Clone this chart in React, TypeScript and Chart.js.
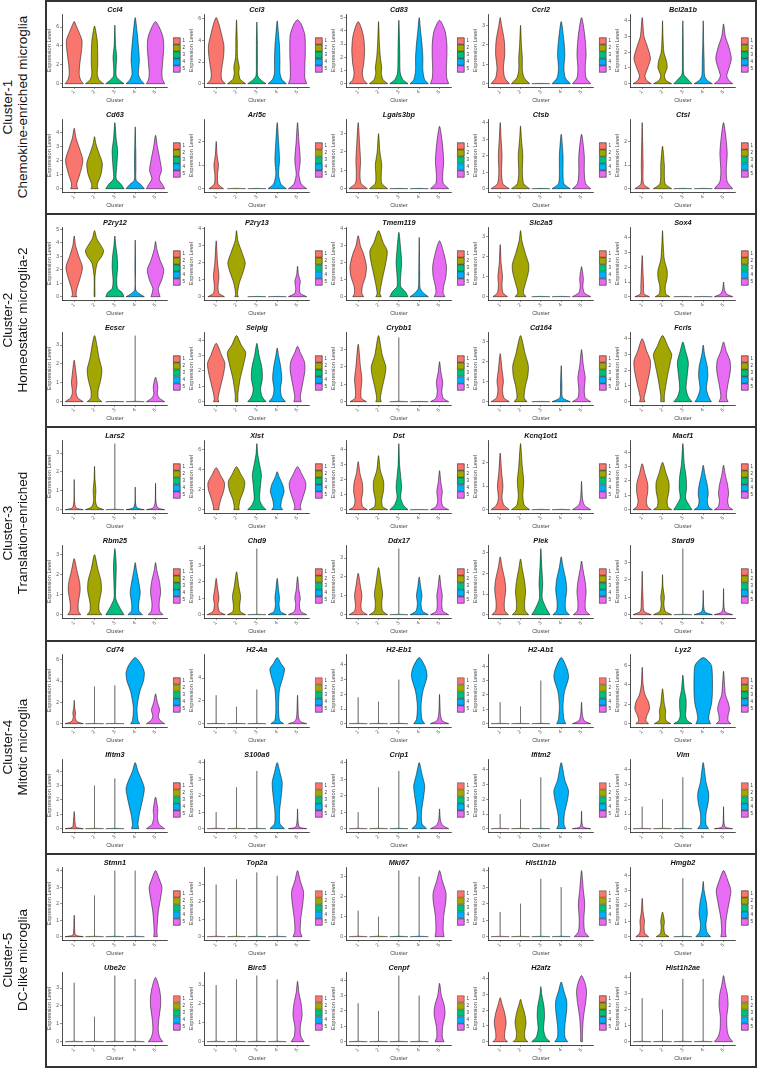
import React, { useEffect, useRef } from "react";
import { Chart, registerables } from "chart.js";

Chart.register(...registerables);

const FONT = "'Liberation Sans', Arial, Helvetica, sans-serif";

const clusterLabels = ["1", "2", "3", "4", "5"];
const clusterColors = ["#F8766D", "#A3A500", "#00BF7D", "#00B0F6", "#E76BF3"];

const sectionNames = ["Cluster-1", "Cluster-2", "Cluster-3", "Cluster-4", "Cluster-5"];
const sectionSubtitles = [
  "Chemokine-enriched microglia",
  "Homeostatic microglia-2",
  "Translation-enriched",
  "Mitotic microglia",
  "DC-like microglia",
];

type Knot = [number, number];
type Violin = Knot[];

// ---------- Section 1 ----------
const s1Genes = ["Ccl4", "Ccl3", "Cd83", "Ccrl2", "Bcl2a1b", "Cd63", "Arl5c", "Lgals3bp", "Ctsb", "Ctsl"];
const s1Ticks = [[0, 2, 4, 6], [0, 2, 4, 6], [0, 1, 2, 3, 4, 5], [0, 1, 2, 3], [0, 1, 2, 3, 4], [0, 1, 2, 3, 4], [0, 1, 2], [0, 1, 2, 3], [0, 1, 2, 3, 4], [0, 1, 2]];
const s1Violins: Violin[][] = [
  [
    [[0, 1], [0.4, 0.7], [1, 0.55], [2, 0.6], [3.5, 0.8], [4.6, 0.85], [5.5, 0.5], [6.2, 0.2], [6.6, 0]],
    [[0, 1], [0.4, 0.5], [1, 0.3], [2, 0.35], [3, 0.35], [4.5, 0.3], [5.5, 0.15], [6.1, 0]],
    [[0, 1], [0.3, 0.6], [0.8, 0.15], [2, 0.15], [2.8, 0.2], [4, 0.08], [6.2, 0]],
    [[0, 1], [0.4, 0.6], [1, 0.35], [2.5, 0.45], [4, 0.35], [5.5, 0.2], [7, 0]],
    [[0, 1], [0.5, 0.75], [1.2, 0.7], [2.5, 0.8], [4, 0.9], [5, 0.8], [6, 0.4], [6.6, 0]],
  ],
  [
    [[0, 1], [0.4, 0.6], [1, 0.55], [2.5, 0.8], [3.5, 0.85], [4.5, 0.6], [5.5, 0.3], [6.1, 0]],
    [[0, 1], [0.4, 0.4], [1, 0.25], [1.5, 0.3], [2.5, 0.1], [4, 0.08], [5.9, 0]],
    [[0, 1], [0.3, 0.5], [0.7, 0.1], [2, 0.06], [4, 0.05], [5.7, 0]],
    [[0, 1], [0.4, 0.5], [1, 0.3], [2, 0.3], [3.5, 0.25], [4.5, 0.15], [5.8, 0]],
    [[0, 1], [0.5, 0.8], [1.5, 0.8], [3, 0.85], [4.5, 0.8], [5.5, 0.4], [5.9, 0]],
  ],
  [
    [[0, 1], [0.3, 0.6], [0.8, 0.45], [1.5, 0.6], [2.5, 0.7], [3.5, 0.6], [4.3, 0.3], [4.7, 0]],
    [[0, 1], [0.3, 0.5], [0.8, 0.3], [1.2, 0.35], [2, 0.2], [3, 0.1], [4.7, 0]],
    [[0, 1], [0.3, 0.45], [0.8, 0.15], [2, 0.1], [3, 0.08], [4.8, 0]],
    [[0, 1], [0.3, 0.6], [1, 0.4], [2, 0.4], [3, 0.3], [4, 0.15], [5, 0]],
    [[0, 1], [0.4, 0.8], [1, 0.75], [2, 0.8], [3, 0.8], [4, 0.6], [4.8, 0]],
  ],
  [
    [[0, 1], [0.3, 0.5], [0.8, 0.35], [1.5, 0.5], [2.2, 0.45], [3, 0.15], [3.4, 0]],
    [[0, 1], [0.3, 0.4], [0.7, 0.2], [1.3, 0.2], [2, 0.1], [3, 0]],
    [[0, 1], [0.02, 0]],
    [[0, 1], [0.3, 0.45], [0.8, 0.3], [1.5, 0.4], [2.2, 0.3], [3.2, 0]],
    [[0, 1], [0.3, 0.5], [0.8, 0.4], [1.5, 0.5], [2.5, 0.35], [3.4, 0]],
  ],
  [
    [[0, 1], [0.2, 0.5], [0.5, 0.3], [1, 0.6], [1.6, 0.9], [2.3, 0.6], [3, 0.2], [4.2, 0]],
    [[0, 1], [0.2, 0.4], [0.5, 0.2], [1, 0.5], [1.4, 0.45], [2, 0.15], [3, 0.05], [4, 0]],
    [[0, 1], [0.3, 0.5], [0.6, 0.1], [1.5, 0.05], [3, 0.03], [4, 0]],
    [[0, 1], [0.2, 0.45], [0.5, 0.15], [1.5, 0.1], [2.5, 0.05], [4, 0]],
    [[0, 1], [0.2, 0.6], [0.5, 0.35], [1, 0.6], [1.6, 0.85], [2.3, 0.6], [3, 0.2], [3.8, 0]],
  ],
  [
    [[0, 0.4], [0.15, 0.3], [0.4, 0.3], [1, 0.6], [2, 0.95], [2.8, 0.6], [3.6, 0.2], [4.3, 0]],
    [[0, 0.4], [0.15, 0.3], [0.4, 0.35], [1, 0.7], [1.8, 0.85], [2.5, 0.5], [3.2, 0.15], [3.7, 0]],
    [[0, 1], [0.3, 0.7], [0.7, 0.15], [1.5, 0.2], [2.7, 0.3], [3.5, 0.15], [4.7, 0]],
    [[0, 1], [0.3, 0.6], [0.6, 0.1], [1.5, 0.08], [2.5, 0.07], [3, 0.05], [4.4, 0]],
    [[0, 1], [0.3, 0.75], [0.7, 0.4], [1.3, 0.65], [2, 0.5], [3, 0.2], [3.8, 0]],
  ],
  [
    [[0, 0.8], [0.2, 0.2], [0.6, 0.15], [1, 0.25], [1.4, 0.1], [2, 0]],
    [[0, 1], [0.02, 0]],
    [[0, 1], [0.02, 0]],
    [[0, 1], [0.2, 0.4], [0.6, 0.15], [1.2, 0.25], [2, 0.15], [2.8, 0]],
    [[0, 1], [0.2, 0.4], [0.6, 0.15], [1.2, 0.3], [2, 0.15], [2.8, 0]],
  ],
  [
    [[0, 1], [0.3, 0.3], [0.8, 0.2], [1.5, 0.25], [2.5, 0.15], [3.6, 0]],
    [[0, 1], [0.3, 0.35], [0.8, 0.3], [1.3, 0.35], [2, 0.15], [3, 0]],
    [[0, 1], [0.02, 0]],
    [[0, 1], [0.02, 0]],
    [[0, 1], [0.3, 0.4], [0.8, 0.35], [1.5, 0.45], [2.5, 0.3], [3.4, 0]],
  ],
  [
    [[0, 1], [0.3, 0.3], [1, 0.15], [2, 0.2], [3, 0.1], [4, 0]],
    [[0, 1], [0.3, 0.35], [1, 0.2], [2, 0.25], [3, 0.1], [3.8, 0]],
    [[0, 1], [0.02, 0]],
    [[0, 1], [0.3, 0.3], [1, 0.2], [2, 0.2], [3.3, 0]],
    [[0, 1], [0.3, 0.45], [1, 0.3], [2, 0.3], [3.3, 0]],
  ],
  [
    [[0, 0.8], [0.2, 0.15], [1, 0.1], [2, 0.05], [2.8, 0]],
    [[0, 1], [0.2, 0.3], [0.6, 0.2], [1, 0.2], [1.8, 0]],
    [[0, 1], [0.02, 0]],
    [[0, 1], [0.02, 0]],
    [[0, 1], [0.3, 0.4], [0.8, 0.3], [1.5, 0.4], [2.2, 0.25], [2.8, 0]],
  ],
];

// ---------- Section 2 ----------
const s2Genes = ["P2ry12", "P2ry13", "Tmem119", "Slc2a5", "Sox4", "Ecscr", "Selplg", "Crybb1", "Cd164", "Fcrls"];
const s2Ticks = [[0, 1, 2, 3, 4, 5], [0, 1, 2, 3, 4], [0, 1, 2, 3, 4], [0, 1, 2, 3], [0, 1, 2, 3, 4], [0, 1, 2, 3], [0, 1, 2, 3, 4], [0, 1, 2, 3], [0, 1, 2, 3], [0, 1, 2, 3, 4]];
const s2Violins: Violin[][] = [
  [
    [[0, 0.3], [0.15, 0.2], [0.6, 0.3], [1.5, 0.7], [2.2, 0.9], [3, 0.5], [3.8, 0.15], [4.5, 0]],
    [[0, 0.05], [1.5, 0.05], [2.5, 0.3], [3, 0.8], [3.4, 1], [3.8, 0.7], [4.3, 0.25], [4.9, 0]],
    [[0, 1], [0.3, 0.8], [0.6, 0.3], [1.2, 0.2], [2.2, 0.3], [3, 0.25], [3.8, 0.1], [4.5, 0]],
    [[0, 1], [0.2, 0.5], [0.5, 0.05], [2, 0.03], [4.2, 0]],
    [[0, 0.5], [0.2, 0.4], [0.6, 0.3], [1.3, 0.7], [2, 0.9], [2.7, 0.5], [3.5, 0.15], [4.1, 0]],
  ],
  [
    [[0, 0.9], [0.2, 0.3], [0.6, 0.2], [1.2, 0.3], [2, 0.15], [3.3, 0]],
    [[0, 0.2], [0.15, 0.1], [0.8, 0.3], [1.5, 0.75], [2, 0.95], [2.6, 0.6], [3.3, 0.15], [3.9, 0]],
    [[0, 1], [0.02, 0]],
    [[0, 1], [0.02, 0]],
    [[0, 1], [0.2, 0.3], [0.5, 0.2], [0.9, 0.3], [1.3, 0.1], [1.8, 0]],
  ],
  [
    [[0, 0.6], [0.2, 0.4], [0.6, 0.45], [1.2, 0.8], [1.8, 0.9], [2.5, 0.6], [3, 0.25], [3.6, 0]],
    [[0, 0.3], [0.2, 0.15], [1, 0.4], [2, 0.8], [2.7, 0.95], [3.2, 0.5], [3.9, 0]],
    [[0, 1], [0.3, 0.7], [0.6, 0.2], [1.2, 0.2], [2, 0.3], [2.8, 0.2], [3.8, 0]],
    [[0, 1], [0.2, 0.5], [0.5, 0.1], [1.5, 0.05], [3.5, 0]],
    [[0, 0.6], [0.2, 0.4], [0.6, 0.45], [1.2, 0.7], [1.8, 0.75], [2.5, 0.5], [3.3, 0]],
  ],
  [
    [[0, 0.8], [0.2, 0.3], [0.6, 0.2], [1, 0.25], [1.7, 0.1], [2.6, 0]],
    [[0, 0.6], [0.2, 0.3], [0.6, 0.5], [1.2, 0.85], [1.6, 0.9], [2.2, 0.5], [2.8, 0.15], [3.3, 0]],
    [[0, 1], [0.02, 0]],
    [[0, 1], [0.02, 0]],
    [[0, 1], [0.2, 0.3], [0.5, 0.15], [0.9, 0.2], [1.5, 0]],
  ],
  [
    [[0, 0.8], [0.2, 0.2], [0.8, 0.15], [1.5, 0.1], [2.8, 0]],
    [[0, 0.8], [0.2, 0.35], [0.7, 0.3], [1.3, 0.5], [1.8, 0.5], [2.5, 0.2], [3.5, 0.08], [4.5, 0]],
    [[0, 1], [0.02, 0]],
    [[0, 1], [0.02, 0]],
    [[0, 1], [0.2, 0.3], [0.5, 0.1], [1, 0]],
  ],
  [
    [[0, 1], [0.2, 0.4], [0.5, 0.2], [1, 0.3], [1.5, 0.2], [2.2, 0]],
    [[0, 0.8], [0.2, 0.4], [0.6, 0.4], [1.2, 0.7], [1.7, 0.8], [2.3, 0.5], [3.5, 0]],
    [[0, 1], [0.02, 0]],
    [[0, 1], [0.03, 0.01], [3.5, 0]],
    [[0, 1], [0.2, 0.4], [0.4, 0.2], [0.8, 0.25], [1.3, 0]],
  ],
  [
    [[0, 0.3], [0.2, 0.2], [0.8, 0.4], [1.8, 0.8], [2.5, 0.95], [3, 0.6], [3.8, 0]],
    [[0, 0.15], [0.5, 0.15], [1.5, 0.4], [2.5, 0.8], [3.2, 1], [3.7, 0.5], [4.3, 0]],
    [[0, 1], [0.3, 0.6], [0.8, 0.4], [1.5, 0.6], [2.2, 0.55], [3, 0.25], [3.8, 0]],
    [[0, 0.9], [0.3, 0.5], [0.8, 0.35], [1.5, 0.5], [2.2, 0.4], [3, 0.15], [3.5, 0]],
    [[0, 0.4], [0.3, 0.3], [1, 0.5], [2, 0.8], [2.6, 0.75], [3.2, 0.3], [3.6, 0]],
  ],
  [
    [[0, 0.9], [0.2, 0.35], [0.6, 0.3], [1.3, 0.4], [2, 0.25], [3.3, 0]],
    [[0, 0.3], [0.2, 0.2], [0.8, 0.4], [1.5, 0.7], [2, 0.8], [2.7, 0.4], [3.8, 0]],
    [[0, 1], [0.03, 0.01], [3.7, 0]],
    [[0, 1], [0.02, 0]],
    [[0, 1], [0.2, 0.4], [0.6, 0.25], [1.1, 0.35], [1.7, 0.15], [2.3, 0]],
  ],
  [
    [[0, 1], [0.2, 0.4], [0.6, 0.25], [1, 0.35], [1.6, 0.2], [2.4, 0]],
    [[0, 0.7], [0.2, 0.4], [0.7, 0.5], [1.3, 0.8], [1.8, 0.85], [2.4, 0.5], [3.3, 0]],
    [[0, 1], [0.02, 0]],
    [[0, 1], [0.2, 0.15], [0.8, 0.08], [1.8, 0]],
    [[0, 1], [0.2, 0.4], [0.6, 0.3], [1.2, 0.4], [1.8, 0.2], [2.6, 0]],
  ],
  [
    [[0, 0.3], [0.2, 0.2], [1, 0.5], [2, 0.85], [2.6, 0.9], [3.2, 0.5], [4, 0]],
    [[0, 0.2], [0.4, 0.2], [1.5, 0.5], [2.5, 0.85], [3, 1], [3.5, 0.6], [4.2, 0]],
    [[0, 1], [0.3, 0.6], [0.8, 0.35], [1.8, 0.5], [2.5, 0.6], [3.2, 0.3], [3.8, 0]],
    [[0, 0.9], [0.3, 0.6], [0.8, 0.35], [1.6, 0.5], [2.2, 0.45], [3, 0.15], [3.6, 0]],
    [[0, 0.5], [0.3, 0.3], [1, 0.45], [2, 0.75], [2.6, 0.7], [3.2, 0.3], [3.8, 0]],
  ],
];

// ---------- Section 3 ----------
const s3Genes = ["Lars2", "Xist", "Dst", "Kcnq1ot1", "Macf1", "Rbm25", "Chd9", "Ddx17", "Plek", "Stard9"];
const s3Ticks = [[0, 1, 2, 3], [0, 2, 4, 6], [0, 1, 2, 3, 4], [0, 1, 2], [0, 1, 2, 3, 4], [0, 1, 2, 3], [0, 1, 2, 3, 4], [0, 1, 2, 3], [0, 1, 2, 3], [0, 1, 2, 3]];
const s3Violins: Violin[][] = [
  [
    [[0, 1], [0.1, 0.2], [0.5, 0.03], [1.6, 0]],
    [[0, 1], [0.15, 0.3], [0.5, 0.1], [1, 0.15], [1.6, 0.05], [2.3, 0]],
    [[0, 1], [0.03, 0.01], [3.5, 0]],
    [[0, 1], [0.1, 0.2], [0.4, 0.03], [1.2, 0]],
    [[0, 1], [0.1, 0.25], [0.4, 0.05], [1.4, 0]],
  ],
  [
    [[0, 0.3], [0.3, 0.3], [1, 0.5], [2, 0.85], [2.7, 0.9], [3.4, 0.5], [4.2, 0]],
    [[0, 0.3], [0.3, 0.25], [1, 0.4], [2, 0.8], [2.8, 0.9], [3.5, 0.5], [4.3, 0]],
    [[0, 1], [0.4, 0.6], [1, 0.3], [2.5, 0.4], [3.5, 0.5], [4.5, 0.3], [5.5, 0.1], [6.6, 0]],
    [[0, 0.6], [0.3, 0.4], [1, 0.5], [1.8, 0.75], [2.5, 0.6], [3.3, 0.2], [3.8, 0]],
    [[0, 0.4], [0.3, 0.3], [1, 0.5], [2, 0.85], [2.7, 0.9], [3.5, 0.5], [4.3, 0]],
  ],
  [
    [[0, 1], [0.2, 0.5], [0.6, 0.35], [1.2, 0.5], [1.8, 0.45], [2.4, 0.2], [3.2, 0]],
    [[0, 1], [0.2, 0.45], [0.6, 0.35], [1.3, 0.55], [1.9, 0.55], [2.6, 0.2], [3.6, 0]],
    [[0, 1], [0.3, 0.5], [0.8, 0.2], [1.5, 0.3], [2.2, 0.2], [3, 0.08], [4.4, 0]],
    [[0, 1], [0.02, 0]],
    [[0, 1], [0.2, 0.4], [0.6, 0.2], [1.2, 0.3], [1.8, 0.15], [2.6, 0]],
  ],
  [
    [[0, 1], [0.2, 0.4], [0.5, 0.2], [1, 0.3], [1.6, 0.15], [2.4, 0]],
    [[0, 1], [0.2, 0.4], [0.6, 0.25], [1.2, 0.35], [1.8, 0.2], [2.8, 0]],
    [[0, 1], [0.02, 0]],
    [[0, 1], [0.02, 0]],
    [[0, 1], [0.2, 0.3], [0.5, 0.1], [1.2, 0]],
  ],
  [
    [[0, 1], [0.2, 0.6], [0.6, 0.45], [1.2, 0.6], [1.8, 0.6], [2.5, 0.3], [3.2, 0]],
    [[0, 1], [0.2, 0.6], [0.6, 0.5], [1.3, 0.7], [1.9, 0.7], [2.6, 0.35], [3.3, 0]],
    [[0, 1], [0.3, 0.7], [0.8, 0.3], [1.5, 0.4], [2.3, 0.35], [3.2, 0.15], [4.6, 0]],
    [[0, 1], [0.2, 0.6], [0.6, 0.45], [1.1, 0.55], [1.7, 0.45], [2.4, 0.2], [3.1, 0]],
    [[0, 1], [0.2, 0.6], [0.6, 0.45], [1.1, 0.55], [1.7, 0.45], [2.4, 0.2], [3.1, 0]],
  ],
  [
    [[0, 0.7], [0.2, 0.45], [0.6, 0.45], [1.2, 0.65], [1.6, 0.6], [2.2, 0.3], [2.8, 0]],
    [[0, 0.8], [0.2, 0.5], [0.6, 0.5], [1.2, 0.75], [1.7, 0.7], [2.3, 0.35], [3, 0]],
    [[0, 1], [0.3, 0.6], [0.8, 0.1], [1.5, 0.1], [2.5, 0.15], [3.3, 0]],
    [[0, 0.8], [0.2, 0.4], [0.6, 0.4], [1.1, 0.55], [1.6, 0.4], [2.2, 0.15], [2.6, 0]],
    [[0, 0.8], [0.2, 0.45], [0.6, 0.4], [1.1, 0.55], [1.6, 0.45], [2.2, 0.15], [2.6, 0]],
  ],
  [
    [[0, 1], [0.2, 0.35], [0.6, 0.2], [1, 0.3], [1.6, 0.15], [2.2, 0]],
    [[0, 1], [0.2, 0.4], [0.6, 0.35], [1.1, 0.45], [1.7, 0.25], [2.6, 0]],
    [[0, 1], [0.03, 0.01], [4, 0]],
    [[0, 1], [0.2, 0.35], [0.6, 0.2], [1, 0.25], [1.5, 0.15], [2.2, 0]],
    [[0, 1], [0.2, 0.35], [0.6, 0.2], [1, 0.3], [1.5, 0.15], [2.3, 0]],
  ],
  [
    [[0, 1], [0.2, 0.4], [0.5, 0.3], [1, 0.4], [1.5, 0.25], [2.2, 0]],
    [[0, 1], [0.2, 0.45], [0.6, 0.35], [1.1, 0.45], [1.6, 0.3], [2.5, 0]],
    [[0, 1], [0.03, 0.01], [3.5, 0]],
    [[0, 1], [0.2, 0.35], [0.6, 0.2], [1, 0.3], [1.5, 0.15], [2, 0]],
    [[0, 1], [0.2, 0.35], [0.6, 0.25], [1, 0.3], [1.5, 0.15], [2.1, 0]],
  ],
  [
    [[0, 0.9], [0.2, 0.5], [0.6, 0.45], [1.2, 0.6], [1.7, 0.5], [2.3, 0.2], [2.8, 0]],
    [[0, 0.9], [0.2, 0.5], [0.6, 0.45], [1.1, 0.55], [1.6, 0.45], [2.2, 0.2], [2.7, 0]],
    [[0, 1], [0.3, 0.6], [0.8, 0.15], [1.5, 0.2], [2.3, 0.1], [3.2, 0]],
    [[0, 0.9], [0.2, 0.5], [0.6, 0.45], [1.2, 0.6], [1.7, 0.5], [2.3, 0.2], [2.8, 0]],
    [[0, 0.9], [0.2, 0.45], [0.6, 0.4], [1.1, 0.5], [1.6, 0.4], [2.2, 0.15], [2.6, 0]],
  ],
  [
    [[0, 1], [0.2, 0.2], [0.8, 0.1], [1.5, 0.05], [2.5, 0]],
    [[0, 1], [0.2, 0.3], [0.6, 0.15], [1, 0.2], [1.6, 0.05], [2.3, 0]],
    [[0, 1], [0.03, 0.01], [3.8, 0]],
    [[0, 1], [0.15, 0.2], [0.5, 0.05], [1.4, 0]],
    [[0, 1], [0.15, 0.2], [0.5, 0.05], [1.5, 0]],
  ],
];

// ---------- Section 4 ----------
const s4Genes = ["Cd74", "H2-Aa", "H2-Eb1", "H2-Ab1", "Lyz2", "Ifitm3", "S100a6", "Crip1", "Ifitm2", "Vim"];
const s4Ticks = [[0, 2, 4, 6], [0, 2, 4], [0, 1, 2, 3, 4], [0, 1, 2, 3, 4], [0, 2, 4, 6], [0, 1, 2, 3, 4], [0, 1, 2, 3, 4], [0, 1, 2, 3, 4], [0, 1, 2, 3, 4], [0, 1, 2, 3, 4]];
const s4Violins: Violin[][] = [
  [
    [[0, 1], [0.2, 0.3], [0.6, 0.1], [1, 0.15], [1.5, 0.05], [2.2, 0]],
    [[0, 1], [0.03, 0.01], [3.5, 0]],
    [[0, 1], [0.03, 0.01], [3.6, 0]],
    [[0, 0.5], [0.3, 0.3], [1.5, 0.2], [3, 0.5], [4, 0.9], [4.8, 1], [5.5, 0.7], [6.2, 0]],
    [[0, 1], [0.3, 0.5], [0.7, 0.3], [1.3, 0.45], [2, 0.2], [2.8, 0]],
  ],
  [
    [[0, 1], [0.03, 0.01], [2.5, 0]],
    [[0, 1], [0.03, 0.01], [1.5, 0]],
    [[0, 1], [0.03, 0.01], [3, 0]],
    [[0, 0.7], [0.3, 0.25], [1.5, 0.15], [3, 0.25], [4, 0.6], [4.8, 0.8], [5.3, 0.4], [5.8, 0]],
    [[0, 1], [0.2, 0.3], [0.6, 0.1], [1.5, 0.05], [2.5, 0]],
  ],
  [
    [[0, 1], [0.03, 0.01], [1.8, 0]],
    [[0, 1], [0.03, 0.01], [1.5, 0]],
    [[0, 1], [0.03, 0.01], [3, 0]],
    [[0, 0.6], [0.3, 0.3], [1.2, 0.2], [2.2, 0.4], [3.2, 0.85], [3.8, 0.7], [4.5, 0]],
    [[0, 1], [0.2, 0.3], [0.6, 0.1], [1.2, 0.05], [2, 0]],
  ],
  [
    [[0, 1], [0.03, 0.01], [1.5, 0]],
    [[0, 1], [0.03, 0.01], [1.2, 0]],
    [[0, 1], [0.03, 0.01], [3, 0]],
    [[0, 0.5], [0.3, 0.3], [1.2, 0.2], [2.2, 0.35], [3.2, 0.8], [3.8, 0.65], [4.6, 0]],
    [[0, 1], [0.2, 0.3], [0.6, 0.1], [1.5, 0]],
  ],
  [
    [[0, 0.7], [0.3, 0.4], [0.8, 0.5], [1.5, 0.8], [2.2, 0.7], [3, 0.3], [4, 0.1], [5.8, 0]],
    [[0, 0.9], [0.3, 0.4], [0.8, 0.3], [1.3, 0.35], [2, 0.2], [3.6, 0]],
    [[0, 1], [0.3, 0.5], [0.8, 0.3], [1.6, 0.35], [2.5, 0.35], [3.5, 0.15], [5, 0]],
    [[0, 0.8], [0.5, 0.6], [1.2, 0.7], [2, 0.9], [3, 1], [5, 1], [6, 0.9], [6.5, 0.5], [6.8, 0]],
    [[0, 0.8], [0.3, 0.5], [0.8, 0.5], [1.5, 0.65], [2.2, 0.5], [3, 0.2], [5.4, 0]],
  ],
  [
    [[0, 1], [0.1, 0.2], [0.4, 0.1], [1.2, 0]],
    [[0, 1], [0.03, 0.01], [3, 0]],
    [[0, 1], [0.03, 0.01], [3.5, 0]],
    [[0, 0.4], [0.3, 0.3], [1, 0.45], [2, 0.8], [2.8, 1], [3.4, 0.7], [4, 0.3], [4.6, 0]],
    [[0, 1], [0.3, 0.4], [0.8, 0.2], [1.3, 0.25], [2.2, 0]],
  ],
  [
    [[0, 1], [0.03, 0.01], [1, 0]],
    [[0, 1], [0.03, 0.01], [2.5, 0]],
    [[0, 1], [0.03, 0.01], [3.5, 0]],
    [[0, 0.8], [0.3, 0.3], [1, 0.25], [2, 0.45], [2.8, 0.55], [3.4, 0.3], [4, 0]],
    [[0, 1], [0.1, 0.2], [0.5, 0.05], [1.2, 0]],
  ],
  [
    [[0, 1], [0.03, 0.01], [1, 0]],
    [[0, 1], [0.03, 0.01], [2.5, 0]],
    [[0, 1], [0.03, 0.01], [3.5, 0]],
    [[0, 0.8], [0.3, 0.3], [1, 0.25], [2, 0.5], [2.6, 0.6], [3.3, 0.3], [4, 0]],
    [[0, 1], [0.2, 0.35], [0.5, 0.1], [1.2, 0]],
  ],
  [
    [[0, 1], [0.03, 0.01], [1, 0]],
    [[0, 1], [0.03, 0.01], [2, 0]],
    [[0, 1], [0.03, 0.01], [3.5, 0]],
    [[0, 0.5], [0.3, 0.3], [1, 0.35], [2, 0.7], [2.6, 0.8], [3.3, 0.4], [4.5, 0]],
    [[0, 1], [0.1, 0.2], [0.4, 0.05], [1.2, 0]],
  ],
  [
    [[0, 1], [0.03, 0.01], [1.5, 0]],
    [[0, 1], [0.03, 0.01], [2, 0]],
    [[0, 1], [0.03, 0.01], [3.5, 0]],
    [[0, 0.6], [0.3, 0.3], [1, 0.3], [1.8, 0.55], [2.4, 0.6], [3.2, 0.3], [4.5, 0]],
    [[0, 1], [0.1, 0.2], [0.4, 0.05], [1.5, 0]],
  ],
];

// ---------- Section 5 ----------
const s5Genes = ["Stmn1", "Top2a", "Mki67", "Hist1h1b", "Hmgb2", "Ube2c", "Birc5", "Cenpf", "H2afz", "Hist1h2ae"];
const s5Ticks = [[0, 1, 2, 3, 4], [0, 1, 2, 3], [0, 1, 2, 3], [0, 1, 2, 3, 4], [0, 1, 2, 3, 4], [0, 1, 2, 3], [0, 1, 2, 3], [0, 1, 2, 3, 4], [0, 1, 2, 3, 4], [0, 1, 2, 3, 4]];
const s5Violins: Violin[][] = [
  [
    [[0, 1], [0.1, 0.15], [0.5, 0.05], [1, 0.03], [1.3, 0]],
    [[0, 1], [0.03, 0.01], [2.5, 0]],
    [[0, 1], [0.03, 0.01], [4, 0]],
    [[0, 1], [0.03, 0.01], [4, 0]],
    [[0, 0.2], [0.3, 0.15], [1.5, 0.3], [2.5, 0.6], [3, 0.7], [3.5, 0.4], [4, 0]],
  ],
  [
    [[0, 1], [0.03, 0.01], [3, 0]],
    [[0, 1], [0.03, 0.01], [3.3, 0]],
    [[0, 1], [0.03, 0.01], [3.7, 0]],
    [[0, 1], [0.03, 0.01], [3.5, 0]],
    [[0, 0.5], [0.3, 0.3], [1, 0.35], [2, 0.6], [2.6, 0.65], [3.2, 0.3], [3.8, 0]],
  ],
  [
    [[0, 1], [0.03, 0.01], [1.3, 0]],
    [[0, 1], [0.03, 0.01], [1, 0]],
    [[0, 1], [0.03, 0.01], [3.3, 0]],
    [[0, 1], [0.03, 0.01], [3, 0]],
    [[0, 0.5], [0.3, 0.4], [1, 0.45], [1.8, 0.7], [2.2, 0.7], [2.8, 0.3], [3.3, 0]],
  ],
  [
    [[0, 1], [0.03, 0.01], [1.5, 0]],
    [[0, 1], [0.03, 0.01], [2, 0]],
    [[0, 1], [0.03, 0.01], [3.5, 0]],
    [[0, 1], [0.03, 0.01], [3, 0]],
    [[0, 0.8], [0.3, 0.35], [1, 0.25], [2, 0.35], [2.8, 0.2], [4, 0]],
  ],
  [
    [[0, 0.7], [0.2, 0.3], [0.6, 0.2], [1, 0.25], [1.6, 0.1], [2.5, 0]],
    [[0, 0.7], [0.2, 0.25], [0.6, 0.15], [1, 0.2], [1.6, 0]],
    [[0, 1], [0.03, 0.01], [3.8, 0]],
    [[0, 0.8], [0.3, 0.4], [0.8, 0.3], [1.5, 0.45], [2.2, 0.35], [3, 0.1], [3.6, 0]],
    [[0, 0.3], [0.3, 0.2], [1.2, 0.3], [2.2, 0.6], [3, 0.8], [3.6, 0.5], [4.3, 0]],
  ],
  [
    [[0, 1], [0.03, 0.01], [3.3, 0]],
    [[0, 1], [0.03, 0.01], [1.4, 0]],
    [[0, 1], [0.03, 0.01], [3.7, 0]],
    [[0, 1], [0.03, 0.01], [3.5, 0]],
    [[0, 0.8], [0.2, 0.5], [0.6, 0.3], [1.2, 0.35], [2, 0.55], [2.5, 0.55], [3, 0.4], [3.6, 0]],
  ],
  [
    [[0, 1], [0.03, 0.01], [3, 0]],
    [[0, 1], [0.03, 0.01], [3.3, 0]],
    [[0, 1], [0.03, 0.01], [3.5, 0]],
    [[0, 1], [0.03, 0.01], [3.3, 0]],
    [[0, 0.7], [0.3, 0.35], [0.8, 0.3], [1.4, 0.5], [2, 0.4], [2.6, 0.15], [3.2, 0]],
  ],
  [
    [[0, 1], [0.03, 0.01], [2.5, 0]],
    [[0, 1], [0.03, 0.01], [2, 0]],
    [[0, 1], [0.03, 0.01], [4.3, 0]],
    [[0, 1], [0.03, 0.01], [3, 0]],
    [[0, 0.5], [0.3, 0.3], [1, 0.35], [1.8, 0.6], [2.4, 0.5], [3, 0.2], [3.8, 0]],
  ],
  [
    [[0, 0.8], [0.2, 0.5], [0.6, 0.5], [1.2, 0.65], [1.8, 0.5], [2.4, 0.2], [2.8, 0]],
    [[0, 0.8], [0.2, 0.5], [0.6, 0.45], [1.2, 0.6], [1.8, 0.45], [2.4, 0.15], [2.7, 0]],
    [[0, 1], [0.3, 0.5], [0.8, 0.3], [1.6, 0.4], [2.2, 0.35], [3, 0.1], [3.5, 0]],
    [[0, 0.7], [0.3, 0.4], [1, 0.4], [2, 0.6], [2.6, 0.6], [3.2, 0.3], [3.8, 0]],
    [[0, 0.1], [0.5, 0.1], [1.5, 0.2], [2.5, 0.45], [3.2, 0.55], [3.7, 0.4], [4.2, 0]],
  ],
  [
    [[0, 1], [0.03, 0.01], [2.7, 0]],
    [[0, 1], [0.03, 0.01], [2, 0]],
    [[0, 1], [0.03, 0.01], [3.9, 0]],
    [[0, 1], [0.03, 0.01], [3.9, 0]],
    [[0, 1], [0.3, 0.6], [0.7, 0.4], [1.5, 0.35], [2.3, 0.5], [3, 0.4], [3.5, 0.2], [4.1, 0]],
  ],
];

const sectionGenes = [s1Genes, s2Genes, s3Genes, s4Genes, s5Genes];
const sectionTicks = [s1Ticks, s2Ticks, s3Ticks, s4Ticks, s5Ticks];
const sectionViolins = [s1Violins, s2Violins, s3Violins, s4Violins, s5Violins];

const HALF_WIDTH = 0.45;
const PANEL_W = 142;
const PANEL_H = 106;
const SECTION_STEP = 213.2;

function violinOutline(center: number, knots: Violin) {
  const right = knots.map(([y, w]) => ({ x: center + w * HALF_WIDTH, y }));
  const left = knots.map(([y, w]) => ({ x: center - w * HALF_WIDTH, y }));
  const pts = [left[0], right[0], right[0]];
  for (let i = 1; i < knots.length; i++) pts.push(right[i]);
  for (let i = knots.length - 2; i >= 0; i--) pts.push(left[i]);
  pts.push(left[0]);
  return pts;
}

function Panel({ gene, ticks, violins, left, top }: { gene: string; ticks: number[]; violins: Violin[]; left: number; top: number }) {
  const ref = useRef<HTMLCanvasElement>(null);
  useEffect(() => {
    if (!ref.current) return;
    const yTop = Math.max(...violins.map((v) => v[v.length - 1][0]));
    const chart = new Chart(ref.current, {
      type: "line",
      data: {
        datasets: violins.map((knots, i) => {
          const spike = knots.length <= 3;
          return {
            label: clusterLabels[i],
            data: violinOutline(i + 1, knots),
            backgroundColor: clusterColors[i],
            borderColor: spike ? "#222" : "#000",
            borderWidth: spike ? 0.4 : 0.5,
            fill: "shape",
            pointRadius: 0,
            pointHoverRadius: 0,
            tension: spike ? 0 : 0.25,
            yAxisID: "y",
            xAxisID: "x",
          };
        }),
      },
      options: {
        animation: false,
        responsive: false,
        events: [],
        parsing: false,
        layout: { padding: { left: 0, right: -6, top: 0, bottom: 0 } },
        plugins: {
          tooltip: { enabled: false },
          title: {
            display: true,
            text: gene,
            fullSize: false,
            color: "#111",
            font: { family: FONT, size: 7.3, style: "italic", weight: "bold", lineHeight: 1 },
            padding: { top: 4, bottom: 1 },
          },
          legend: {
            display: true,
            position: "right",
            align: "center",
            labels: {
              boxWidth: 7,
              boxHeight: 6.5,
              padding: 0.5,
              color: "#333",
              font: { family: FONT, size: 4.5 },
            },
          },
        },
        scales: {
          x: {
            type: "linear",
            min: 0.4,
            max: 5.6,
            afterBuildTicks: (s: any) => {
              s.ticks = clusterLabels.map((_, i) => ({ value: i + 1 }));
            },
            afterFit: (s: any) => {
              s.height = 21;
            },
            ticks: {
              autoSkip: false,
              minRotation: 45,
              maxRotation: 45,
              padding: 0,
              color: "#555",
              font: { family: FONT, size: 5 },
              callback: (v: any) => clusterLabels[Number(v) - 1] ?? "",
            },
            grid: { drawOnChartArea: false, drawTicks: true, tickLength: 2, color: "#333", lineWidth: 0.5 },
            border: { display: true, color: "#000", width: 0.7 },
            title: {
              display: true,
              text: "Cluster",
              color: "#444",
              font: { family: FONT, size: 5.5, lineHeight: 1 },
              padding: { top: 0, bottom: 5 },
            },
          },
          y: {
            type: "linear",
            position: "left",
            min: -0.05 * yTop,
            max: 1.05 * yTop,
            afterBuildTicks: (s: any) => {
              s.ticks = ticks.map((v) => ({ value: v }));
            },
            afterFit: (s: any) => {
              s.width = 15;
            },
            ticks: {
              color: "#555",
              padding: 1,
              font: { family: FONT, size: 5 },
              callback: (v: any) => String(v),
            },
            grid: { drawOnChartArea: false, drawTicks: true, tickLength: 2, color: "#333", lineWidth: 0.5 },
            border: { display: true, color: "#000", width: 0.7 },
            title: {
              display: true,
              text: "Expression Level",
              color: "#444",
              font: { family: FONT, size: 5.7, lineHeight: 1 },
              padding: 0,
            },
          },
          gap: {
            type: "linear",
            position: "right",
            display: true,
            grid: { display: false },
            border: { display: false },
            ticks: { display: false },
            afterFit: (s: any) => {
              s.width = 5;
            },
          },
        },
      } as any,
    });
    return () => chart.destroy();
  }, [gene]);
  return (
    <canvas
      ref={ref}
      width={PANEL_W}
      height={PANEL_H}
      style={{ position: "absolute", left, top, width: PANEL_W, height: PANEL_H }}
    />
  );
}

export default function App() {
  const sections = sectionNames.map((name, si) => {
    const sTop = Math.round(si * SECTION_STEP);
    const sBottom = Math.round((si + 1) * SECTION_STEP);
    return { name, si, sTop, sH: sBottom - sTop + 2 };
  });
  return (
    <div style={{ position: "absolute", left: 0, top: 0, width: 759, height: 1069, background: "#fff", overflow: "hidden" }}>
      {sections.map(({ name, si, sTop, sH }) => (
        <React.Fragment key={name}>
          <div
            style={{
              position: "absolute",
              left: 45,
              top: sTop,
              width: 712,
              height: sH,
              boxSizing: "border-box",
              border: "2px solid #333",
            }}
          />
          <div
            style={{
              position: "absolute",
              left: 16 - 213 / 2,
              top: sTop + 107 - 17,
              width: 213,
              height: 34,
              transform: "rotate(-90deg)",
              fontFamily: FONT,
              fontSize: 13.5,
              lineHeight: "15px",
              textAlign: "center",
              whiteSpace: "nowrap",
              color: "#111",
            }}
          >
            <div>{name}</div>
            <div>{sectionSubtitles[si]}</div>
          </div>
          {sectionGenes[si].map((gene, gi) => (
            <Panel
              key={gene}
              gene={gene}
              ticks={sectionTicks[si][gi]}
              violins={sectionViolins[si][gi]}
              left={47 + PANEL_W * (gi % 5)}
              top={sTop + 2 + (gi < 5 ? 0 : 105)}
            />
          ))}
        </React.Fragment>
      ))}
    </div>
  );
}
